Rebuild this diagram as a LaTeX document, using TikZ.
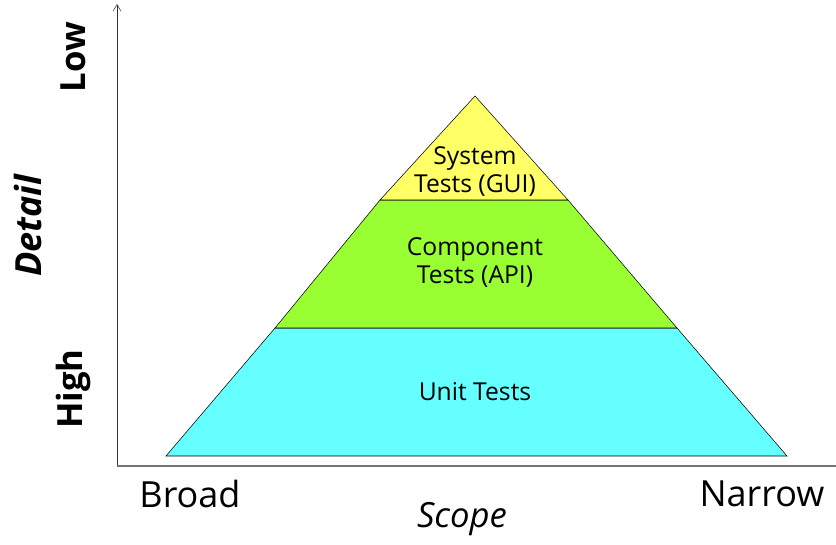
\documentclass[tikz,border=0pt]{standalone}
\usepackage{fontspec}
\setmainfont{Open Sans}
\usetikzlibrary{positioning,arrows.meta}
\definecolor{sysyellow}{HTML}{FFFF66}
\definecolor{compgreen}{HTML}{99FF33}
\definecolor{unitcyan}{HTML}{66FFFF}
\begin{document}
\begin{tikzpicture}[x=0.75pt,y=-0.75pt,
                    layer/.style={draw=black, line join=miter},
                    layertext/.style={align=center, font=\fontsize{18.5}{21}\selectfont},
                    axistext/.style={font=\fontsize{27}{30}\selectfont}]
    \useasboundingbox (0,0) rectangle (836,544);
    % axes
    \coordinate (origin) at (117,466);
    \coordinate (ytop)   at (117,4);
    \coordinate (xend)   at (836,466);
    \draw[black!80, -{Straight Barb[length=5pt,width=6pt]}] (origin) -- (ytop);
    \draw[black!55, line width=0.9pt] (origin) -- (xend);
    % pyramid
    \draw[layer, fill=unitcyan]  (166,456) -- (275,328) -- (677,328) -- (787,456) -- cycle;
    \draw[layer, fill=compgreen] (275,328) -- (380,200) -- (568,200) -- (677,328) -- cycle;
    \draw[layer, fill=sysyellow] (380,200) -- (475,96) -- (568,200) -- cycle;
    \node[layertext] (system)    at (475,172) {System\\Tests (GUI)};
    \node[layertext] (component) at (475,263) {Component\\Tests (API)};
    \node[layertext] (unit)      at (475,392) {Unit Tests};
    % labels
    \node[axistext, rotate=90, font=\fontsize{26}{28}\selectfont\bfseries] (low)  at (73,57)  {Low};
    \node[axistext, rotate=90, font=\fontsize{26}{28}\selectfont\bfseries] (high) at (73,389) {High};
    \node[axistext, rotate=90, font=\fontsize{27}{30}\selectfont\bfseries\itshape] (detail) at (28,226) {Detail};
    \node[axistext]  (broad)  at (190,494) {Broad};
    \node[axistext]  (narrow) at (762,494) {Narrow};
    \node[axistext, font=\fontsize{26}{30}\selectfont\itshape] (scope) at (462,519) {Scope};
\end{tikzpicture}
\end{document}
